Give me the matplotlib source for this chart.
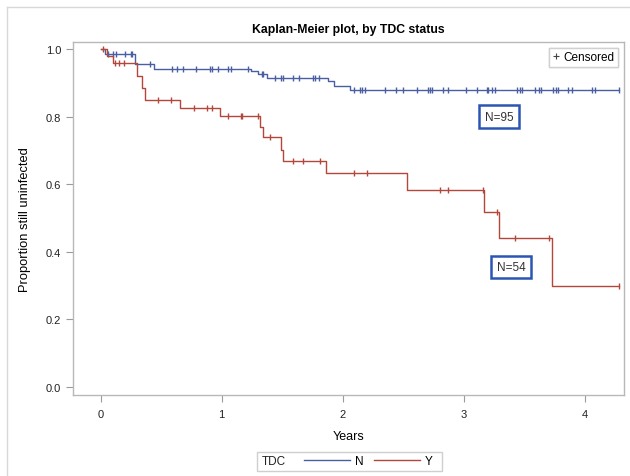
import numpy as np
import matplotlib.pyplot as plt
from matplotlib.lines import Line2D
from matplotlib.patches import Rectangle

plt.rcParams['font.family'] = ['Liberation Sans', 'DejaVu Sans']

# TDC = N : step times and survival after each step
n_times = [0.0, 0.04, 0.28, 0.44, 1.24, 1.30, 1.37, 1.88, 1.93, 2.06]
n_surv = [1.0, 0.985, 0.955, 0.941, 0.934, 0.926, 0.914, 0.906, 0.891, 0.879]
n_censor = [0.06, 0.10, 0.13, 0.20, 0.25, 0.26, 0.41, 0.59, 0.63, 0.68, 0.79,
            0.90, 0.92, 0.97, 1.05, 1.08, 1.22, 1.33, 1.34, 1.44, 1.49, 1.51,
            1.59, 1.64, 1.75, 1.77, 1.80, 2.09, 2.14, 2.16, 2.18, 2.35, 2.44,
            2.50, 2.61, 2.70, 2.72, 2.74, 2.83, 2.87, 3.02, 3.11, 3.19, 3.20,
            3.23, 3.26, 3.44, 3.46, 3.48, 3.59, 3.62, 3.64, 3.74, 3.76, 3.78,
            3.86, 3.89, 4.06, 4.08, 4.28]

# TDC = Y
y_times = [0.0, 0.05, 0.10, 0.30, 0.34, 0.365, 0.655, 0.99, 1.32, 1.345,
           1.49, 1.51, 1.86, 2.53, 3.17, 3.29, 3.73]
y_surv = [1.0, 0.98, 0.959, 0.92, 0.885, 0.85, 0.826, 0.803, 0.77, 0.74,
          0.70, 0.67, 0.633, 0.584, 0.519, 0.44, 0.299]
y_censor = [0.02, 0.12, 0.15, 0.19, 0.47, 0.58, 0.77, 0.88, 0.92, 1.05, 1.16,
            1.17, 1.30, 1.40, 1.59, 1.67, 1.81, 2.09, 2.20, 2.80, 2.87, 3.16,
            3.27, 3.42, 3.70, 4.28]

x_end = 4.28
col_n = '#4a5fa3'
col_y = '#b3473b'


def surv_at(times, surv, t):
    idx = np.searchsorted(times, t, side='right') - 1
    return np.array(surv)[idx]


fig = plt.figure(figsize=(6.3, 4.77), dpi=100)
ax = fig.add_axes([0.1159, 0.1698, 0.8741, 0.7402])

for times, surv, cens, col in [(n_times, n_surv, n_censor, col_n),
                               (y_times, y_surv, y_censor, col_y)]:
    xs = list(times) + [x_end]
    ys = list(surv) + [surv[-1]]
    ax.step(xs, ys, where='post', color=col, lw=1.0)
    ax.plot(cens, surv_at(times, surv, cens), linestyle='none', marker='|',
            markersize=5, markeredgewidth=1.0, color=col)

ax.set_xlim(-0.228, 4.32)
ax.set_ylim(-0.024, 1.021)
ax.set_xticks([0, 1, 2, 3, 4])
ax.set_yticks([0.0, 0.2, 0.4, 0.6, 0.8, 1.0])
ax.set_yticklabels(['0.0', '0.2', '0.4', '0.6', '0.8', '1.0'])
ax.tick_params(direction='out', length=5, color='#9a9a9a', labelsize=8,
               labelcolor='#222222', width=0.8)
ax.tick_params(axis='x', pad=5)
for s in ax.spines.values():
    s.set_color('#b8b8b8')
    s.set_linewidth(1.0)

ax.set_xlabel('Years', fontsize=9, labelpad=8)
ax.set_ylabel('Proportion still uninfected', fontsize=9.3, labelpad=11)
ax.set_title('Kaplan-Meier plot, by TDC status', fontsize=8.8,
             fontweight='bold', pad=7)

# inset legend for censored marks
cens_handle = Line2D([], [], linestyle='none', marker='+', markersize=5,
                     color='#444444', markeredgewidth=0.8)
leg1 = ax.legend([cens_handle], ['Censored'], loc='upper right',
                 fontsize=8.5, handlelength=0.6, handletextpad=0.3,
                 borderpad=0.3, fancybox=False, framealpha=1,
                 edgecolor='#d0d0d0', borderaxespad=0.5)
ax.add_artist(leg1)

# N= boxes
box_style = dict(boxstyle='square,pad=0.45', fc='white', ec='#2a55b5', lw=1.8)
ax.text(3.29, 0.80, 'N=95', fontsize=8.5, ha='center', va='center',
        color='#333333', bbox=box_style)
ax.text(3.39, 0.355, 'N=54', fontsize=8.5, ha='center', va='center',
        color='#333333', bbox=box_style)

# bottom legend: TDC  -- N  -- Y
fig.patches.append(Rectangle((257 / 630, 1 - 472 / 477), 185 / 630, 19 / 477,
                             transform=fig.transFigure, fill=False,
                             ec='#cfcfcf', lw=1.0))
fig.text(262 / 630, 1 - 462 / 477, 'TDC', fontsize=8.5, va='center',
         color='#222222')
handles = [Line2D([], [], color=col_n, lw=1.0), Line2D([], [], color=col_y, lw=1.0)]
fig.legend(handles, ['N', 'Y'], ncol=2, loc='center left',
           bbox_to_anchor=(298 / 630, 1 - 462 / 477), frameon=False,
           fontsize=8.5, handlelength=3.9, handletextpad=0.4,
           columnspacing=0.9, borderpad=0)

# outer light frame
fig.add_artist(Line2D([7 / 630, 7 / 630], [0, 1 - 8 / 477],
                      transform=fig.transFigure, color='#d8d8d8', lw=1.0))
fig.add_artist(Line2D([7 / 630, 1], [1 - 8 / 477, 1 - 8 / 477],
                      transform=fig.transFigure, color='#d8d8d8', lw=1.0))

fig.savefig('out.png', dpi=100)
